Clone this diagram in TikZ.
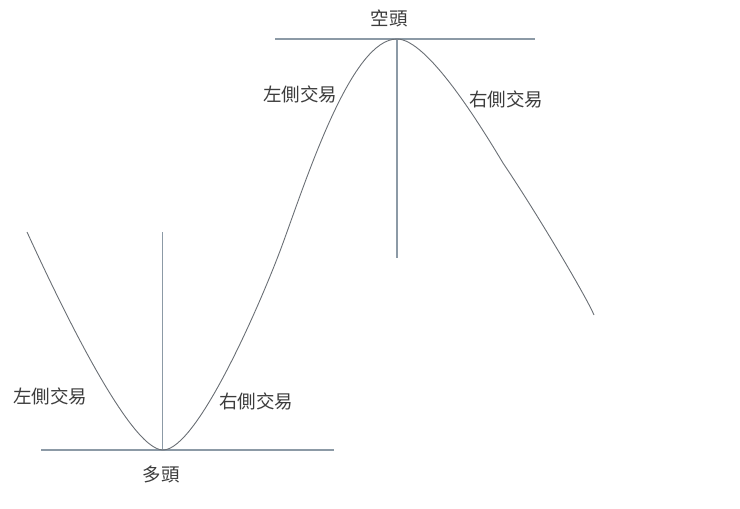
\documentclass[tikz,border=0pt]{standalone}
\usepackage{fontspec}
\newfontfamily\cjk{Noto Sans CJK TC}
\definecolor{axisc}{HTML}{8C9AA6}
\definecolor{curvec}{HTML}{6A6F75}
\definecolor{textc}{HTML}{3C3C3C}
\begin{document}
\begin{tikzpicture}[x=1pt,y=-1pt,
  lbl/.style={font=\cjk\fontsize{18.5}{18.5}\selectfont, text=textc, inner sep=0pt},
  axisline/.style={draw=axisc, line width=1.3pt},
  curveline/.style={draw=curvec, line width=0.9pt}]
\useasboundingbox (0,0) rectangle (740,509);
% lower reference lines
\coordinate (bl) at (41,450);
\coordinate (br) at (334,450);
\coordinate (bvt) at (162.5,232);
\coordinate (bvb) at (162.5,450);
\draw[axisline] (bl) -- (br);
\draw[axisline] (bvt) -- (bvb);
% upper reference lines
\coordinate (tl) at (275,39);
\coordinate (tr) at (535,39);
\coordinate (tvt) at (397,39);
\coordinate (tvb) at (397,258);
\draw[axisline] (tl) -- (tr);
\draw[axisline] (tvt) -- (tvb);
% curve
\coordinate (c0) at (27,232);
\coordinate (c1) at (163,450);
\coordinate (c2) at (283,243);
\coordinate (c3) at (397,39);
\coordinate (c4) at (503,163);
\coordinate (c5) at (594,315);
\draw[curveline] (c0) .. controls (52.2,286.6) and (128,450) .. (c1)
  .. controls (198,450) and (263.8,295.8) .. (c2)
  .. controls (308.6,172.6) and (352,39) .. (c3)
  .. controls (427,39) and (479,123) .. (c4)
  .. controls (540,218) and (588,300) .. (c5);
% labels
\node[lbl] (kong) at (389,18) {空頭};
\node[lbl] (zuo1) at (300,94) {左側交易};
\node[lbl] (you1) at (506,99) {右側交易};
\node[lbl] (zuo2) at (50,396) {左側交易};
\node[lbl] (you2) at (256,401) {右側交易};
\node[lbl] (duo) at (161,474) {多頭};
\end{tikzpicture}
\end{document}
